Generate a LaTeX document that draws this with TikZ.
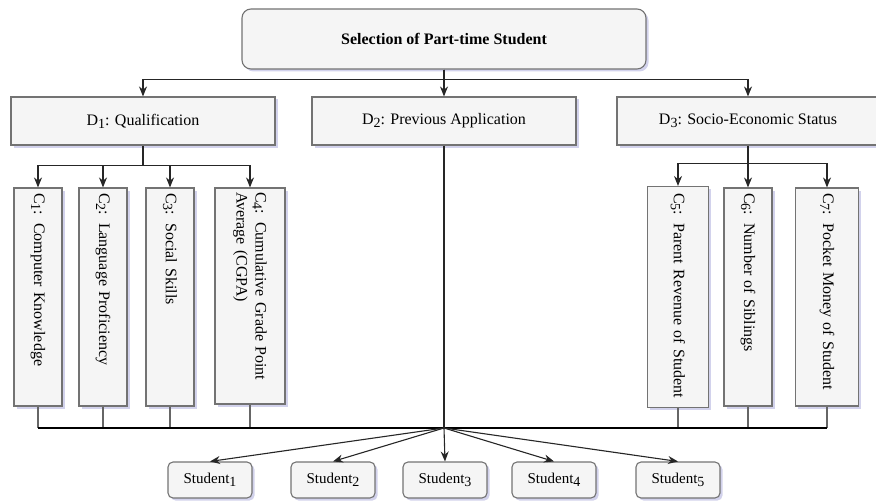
\documentclass[tikz,border=0pt]{standalone}
\usepackage{fontspec}
\setmainfont{Liberation Serif}
\usetikzlibrary{arrows.meta,shadows}
\newcommand{\sbs}[1]{\raisebox{-.4ex}{\fontsize{14}{14}\selectfont#1}}
\tikzset{
	box/.style={draw=black!55,fill=black!4,line width=1.1pt,inner sep=3pt,
		drop shadow={shadow xshift=2.5pt,shadow yshift=-2.5pt,fill=blue!40!gray,opacity=.25},
		font=\fontsize{16}{19}\selectfont},
	topbox/.style={box,rounded corners=9pt,minimum width=404pt,minimum height=60pt},
	dbox/.style={box,minimum width=264pt,minimum height=48pt},
	cbox/.style={box,rotate=-90,minimum width=218pt,text width=208pt,align=left},
	stbox/.style={box,rounded corners=5pt,minimum width=84pt,minimum height=36pt,font=\fontsize{15}{18}\selectfont},
	con/.style={draw=black!85,line width=1.1pt},
	arr/.style={con,-{Stealth[length=10pt,width=8pt]}},
	stub/.style={draw=black!60,line width=1.1pt}
}
\begin{document}
\begin{tikzpicture}[x=1pt,y=-1pt]
	\useasboundingbox (0,0) rectangle (876,503);
	\node[topbox] (sel) at (444,39) {\bfseries Selection of Part-time Student};
	\node[dbox] (d1) at (143,121) {D\sbs{1}: Qualification};
	\node[dbox] (d2) at (444,121) {D\sbs{2}: Previous Application};
	\node[dbox,minimum width=262pt] (d3) at (748,121) {D\sbs{3}: Socio-Economic Status};
	\node[cbox,minimum height=48pt] (c1) at (38,297) {C\sbs{1}: Computer Knowledge};
	\node[cbox,minimum height=48pt] (c2) at (103,297) {C\sbs{2}: Language Proficiency};
	\node[cbox,minimum height=48pt] (c3) at (170,297) {C\sbs{3}: Social Skills};
	\node[cbox,minimum height=70pt,minimum width=216pt] (c4) at (250,296) {C\sbs{4}: Cumulative Grade Point Average (CGPA)};
	\node[cbox,minimum height=61pt,minimum width=221pt] (c5) at (678,297) {C\sbs{5}: Parent Revenue of Student};
	\node[cbox,minimum height=48pt] (c6) at (748,297) {C\sbs{6}: Number of Siblings};
	\node[cbox,minimum height=63pt] (c7) at (827,297) {C\sbs{7}: Pocket Money of Student};
	\node[stbox] (s1) at (210,480) {Student\sbs{1}};
	\node[stbox] (s2) at (333,480) {Student\sbs{2}};
	\node[stbox] (s3) at (445,480) {Student\sbs{3}};
	\node[stbox] (s4) at (554,480) {Student\sbs{4}};
	\node[stbox] (s5) at (678,480) {Student\sbs{5}};
	\coordinate (hub) at (444,428);
	\draw[arr] (sel.south) -- ++(0,10) -| (d1.north);
	\draw[arr] (sel.south) -- ++(0,10) -| (d3.north);
	\draw[arr] (sel.south) -- (d2.north);
	\draw[con] (d1.south) -- ++(0,20) coordinate (b1);
	\foreach \c in {c1,c2,c3,c4}
		\draw[arr] (b1) -| (\c.west);
	\draw[arr] (d3.south) -- (c6.west);
	\path (d3.south) ++(0,18) coordinate (b3);
	\draw[arr] (b3) -| (c5.west);
	\draw[arr] (b3) -| (c7.west);
	\foreach \c in {c1,c2,c3,c4,c5,c6,c7}
		\draw[stub] (\c.east) -- (\c.east |- hub);
	\draw[con,draw=black] (c1.east |- hub) -- (c7.east |- hub);
	\draw[con] (d2.south) -- (hub);
	\foreach \s in {s1,s2,s3,s4,s5}
		\draw[arr] (hub) -- (\s.north);
\end{tikzpicture}
\end{document}
